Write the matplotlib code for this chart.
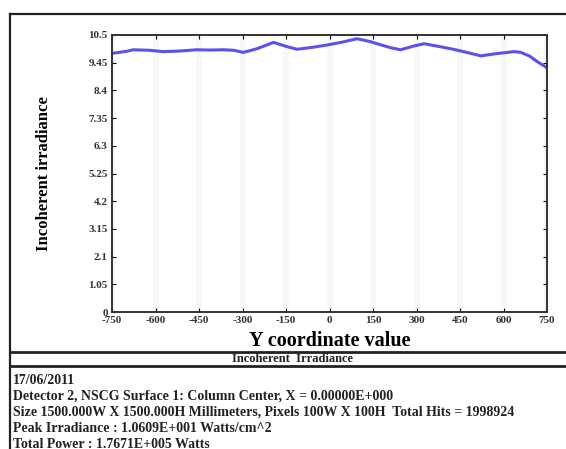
import matplotlib
matplotlib.use("Agg")
import matplotlib.pyplot as plt
from matplotlib.lines import Line2D

# Data
y_coord = [-746, -700, -677, -620, -574, -520, -458, -410, -366, -330, -297, -250,
           -193, -150, -112, -60, -9, 40, 95, 140, 176, 210, 245, 290, 326, 370,
           418, 470, 522, 580, 637, 660, 690, 718, 747]
irradiance = [9.81, 9.88, 9.94, 9.92, 9.87, 9.89, 9.94, 9.93, 9.94, 9.92, 9.84, 9.98,
              10.22, 10.07, 9.96, 10.03, 10.12, 10.22, 10.36, 10.25, 10.13, 10.02, 9.94, 10.08, 10.17, 10.08,
              9.98, 9.85, 9.71, 9.80, 9.87, 9.84, 9.70, 9.48, 9.28]
xticks = [-750, -600, -450, -300, -150, 0, 150, 300, 450, 600, 750]
yticks = [0, 1.05, 2.1, 3.15, 4.2, 5.25, 6.3, 7.35, 8.4, 9.45, 10.5]
ytick_labels = ["0", "1.05", "2.1", "3.15", "4.2", "5.25", "6.3", "7.35", "8.4", "9.45", "10.5"]
info_lines = [
    "17/06/2011",
    "Detector 2, NSCG Surface 1: Column Center, X = 0.00000E+000",
    "Size 1500.000W X 1500.000H Millimeters, Pixels 100W X 100H  Total Hits = 1998924",
    "Peak Irradiance : 1.0609E+001 Watts/cm^2",
    "Total Power : 1.7671E+005 Watts",
]

W, H = 566, 449
plt.rcParams['font.family'] = ['Liberation Serif', 'DejaVu Serif']
fig = plt.figure(figsize=(W / 100, H / 100), dpi=100)

def fx(px):
    return px / W

def fy(py):
    return 1 - py / H

ax = fig.add_axes([fx(112), fy(312), fx(547) - fx(112), fy(35) - fy(312)])
ax.plot(y_coord, irradiance, color='#4a3fe8', lw=2.2, alpha=0.9)
ax.set_xlim(-750, 750)
ax.set_ylim(0, 10.5)
ax.set_xticks(xticks)
ax.set_xticklabels([str(v) for v in xticks], fontsize=8, fontweight='bold', color='#333333')
ax.set_yticks(yticks)
ax.set_yticklabels(ytick_labels, fontsize=8, fontweight='bold', color='#333333')
ax.tick_params(direction='in', length=3, top=True, right=True, width=0.8, pad=3)
ax.grid(True, axis='x', color='#f7f7f7', lw=4)
for s in ax.spines.values():
    s.set_linewidth(1.4)
    s.set_color('#333333')
ax.set_xlabel("Y coordinate value", fontsize=14.5, fontweight='bold', labelpad=4)
ax.set_ylabel("Incoherent irradiance", fontsize=12, fontweight='bold', labelpad=26)

# outer frame
def hline(y, x0, x1, lw=1.6):
    fig.add_artist(Line2D([fx(x0), fx(x1)], [fy(y), fy(y)], transform=fig.transFigure,
                          color='#222222', lw=lw))

def vline(x, y0, y1, lw=1.6):
    fig.add_artist(Line2D([fx(x), fx(x)], [fy(y0), fy(y1)], transform=fig.transFigure,
                          color='#222222', lw=lw))

hline(14, 10, 600)
vline(10, 14, 460)
hline(352, 10, 600, lw=2.0)
hline(366, 10, 600, lw=2.0)

fig.text(fx(292), fy(359), "Incoherent  Irradiance", ha='center', va='center',
         fontsize=9, fontweight='bold', color='#222222')

ys = [380, 396, 412, 428, 444]
for line, yy in zip(info_lines, ys):
    fig.text(fx(13), fy(yy), line, ha='left', va='center', fontsize=10,
             fontweight='bold', color='#222222')

fig.savefig("out.png", dpi=100)
